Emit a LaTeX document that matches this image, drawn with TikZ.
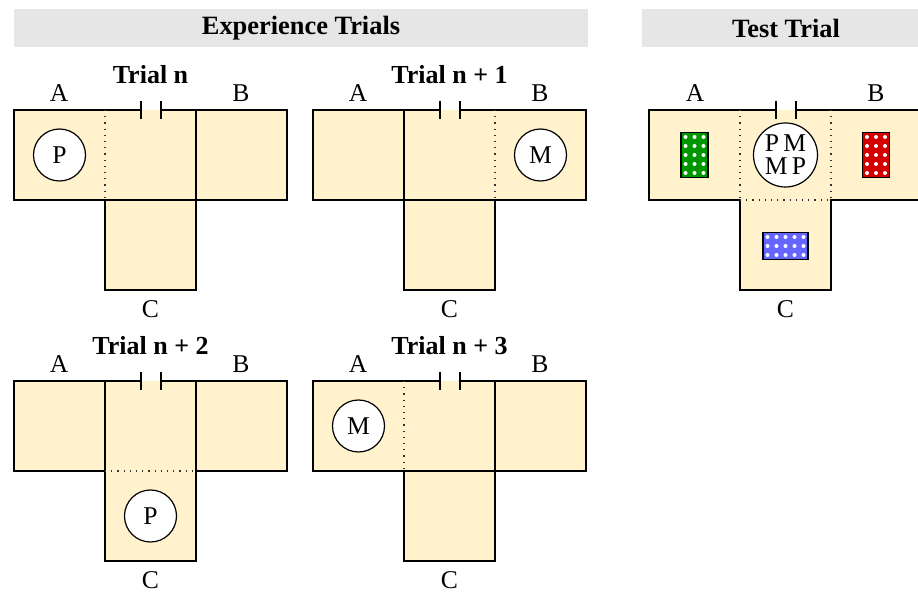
\documentclass[tikz,border=0pt]{standalone}
\usepackage{fontspec}
\setmainfont{Liberation Serif}

\definecolor{armfill}{RGB}{255,242,204}
\definecolor{hdrgray}{RGB}{230,230,230}
\definecolor{cuegreen}{RGB}{0,150,0}
\definecolor{cuered}{RGB}{212,0,0}
\definecolor{cueblue}{RGB}{102,102,255}

\begin{document}
\begin{tikzpicture}[x=0.5pt,y=-0.5pt]
    \tikzstyle{wall}=[black,line width=1pt]
    \tikzstyle{open}=[black!80,line width=0.6pt,dash pattern=on 0.6pt off 2.5pt]
    \tikzstyle{hdr}=[fill=hdrgray,inner sep=0pt,font=\fontsize{13.2}{15}\selectfont\bfseries]
    \tikzstyle{ttl}=[font=\fontsize{13}{15}\selectfont\bfseries]
    \tikzstyle{arm}=[font=\fontsize{12.8}{15}\selectfont]
    \tikzstyle{token}=[arm,draw,circle,fill=white,line width=0.6pt,minimum size=26pt,inner sep=0pt]
    \tikzstyle{cue}=[draw,line width=0.6pt,inner sep=0pt]

  \useasboundingbox (0,0) rectangle (918,593);

  %% headers
  \node (exphdr) at (301,28) [hdr,minimum width=287pt,minimum height=19pt] {Experience Trials};
  \node (testhdr) at (786,28) [hdr,minimum width=144pt,minimum height=19pt] {Test Trial};

  %% T-mazes (outline + door)
  \foreach \ox/\oy in {14/110, 313/110, 14/381, 313/381, 649/110} {
    \begin{scope}[shift={(\ox,\oy)}]
      \fill[armfill] (0,0) -- (273,0) -- (273,90) -- (182,90) -- (182,180) -- (91,180) -- (91,90) -- (0,90) -- cycle;
      \draw[wall] (126.5,0) -- (0,0) -- (0,90) -- (91,90) -- (91,180) -- (182,180) -- (182,90) -- (273,90) -- (273,0) -- (146.5,0);
      \draw[wall] (126.5,-9) -- (126.5,9);
      \draw[wall] (146.5,-9) -- (146.5,9);
    \end{scope}
  }

  %% Trial n
  \draw[open] (105,110) -- (105,200);
  \draw[wall] (196,110) -- (196,200);
  \draw[wall] (105,200) -- (196,200);
  \node (t1) at (150.5,75) [ttl] {Trial n};
  \node (a1) at (59,93) [arm] {A};
  \node (b1) at (241,93) [arm] {B};
  \node (c1) at (150.5,309) [arm] {C};
  \node (p1) at (59.5,155) [token] {P};

  %% Trial n + 1
  \draw[wall] (404,110) -- (404,200);
  \draw[open] (495,110) -- (495,200);
  \draw[wall] (404,200) -- (495,200);
  \node (t2) at (449.5,75) [ttl] {Trial n + 1};
  \node (a2) at (358,93) [arm] {A};
  \node (b2) at (540,93) [arm] {B};
  \node (c2) at (449.5,309) [arm] {C};
  \node (m2) at (540.5,155) [token] {M};

  %% Trial n + 2
  \draw[wall] (105,381) -- (105,471);
  \draw[wall] (196,381) -- (196,471);
  \draw[open] (105,471) -- (196,471);
  \node (t3) at (150.5,346) [ttl] {Trial n + 2};
  \node (a3) at (59,364) [arm] {A};
  \node (b3) at (241,364) [arm] {B};
  \node (c3) at (150.5,580) [arm] {C};
  \node (p3) at (150.5,516) [token] {P};

  %% Trial n + 3
  \draw[open] (404,381) -- (404,471);
  \draw[wall] (495,381) -- (495,471);
  \draw[wall] (404,471) -- (495,471);
  \node (t4) at (449.5,346) [ttl] {Trial n + 3};
  \node (a4) at (358,364) [arm] {A};
  \node (b4) at (540,364) [arm] {B};
  \node (c4) at (449.5,580) [arm] {C};
  \node (m4) at (358.5,426) [token] {M};

  %% Test trial
  \draw[open] (740,110) -- (740,200);
  \draw[open] (831,110) -- (831,200);
  \draw[open] (740,200) -- (831,200);
  \node (a5) at (695,93) [arm] {A};
  \node (b5) at (876,93) [arm] {B};
  \node (c5) at (785.5,309) [arm] {C};
  \node (pm) at (785.5,155) [token,minimum size=32pt,align=center,font=\fontsize{12.8}{11.6}\selectfont] {P\,M\\M\,P};

  \node (gcue) at (694.5,155) [cue,fill=cuegreen,minimum width=13.5pt,minimum height=22.5pt] {};
  \node (rcue) at (876,155)   [cue,fill=cuered,minimum width=13.5pt,minimum height=22.5pt] {};
  \node (bcue) at (785.5,246) [cue,fill=cueblue,minimum width=22.5pt,minimum height=13.5pt] {};
  \foreach \i in {0,1,2} \foreach \j in {0,...,4} {
    \fill[white] (685.5+9*\i,137+9*\j) circle (1pt);
    \fill[white] (867+9*\i,137+9*\j) circle (1pt);
  }
  \foreach \i in {0,...,4} \foreach \j in {0,1,2}
    \fill[white] (767.5+9*\i,237+9*\j) circle (1pt);
\end{tikzpicture}
\end{document}
